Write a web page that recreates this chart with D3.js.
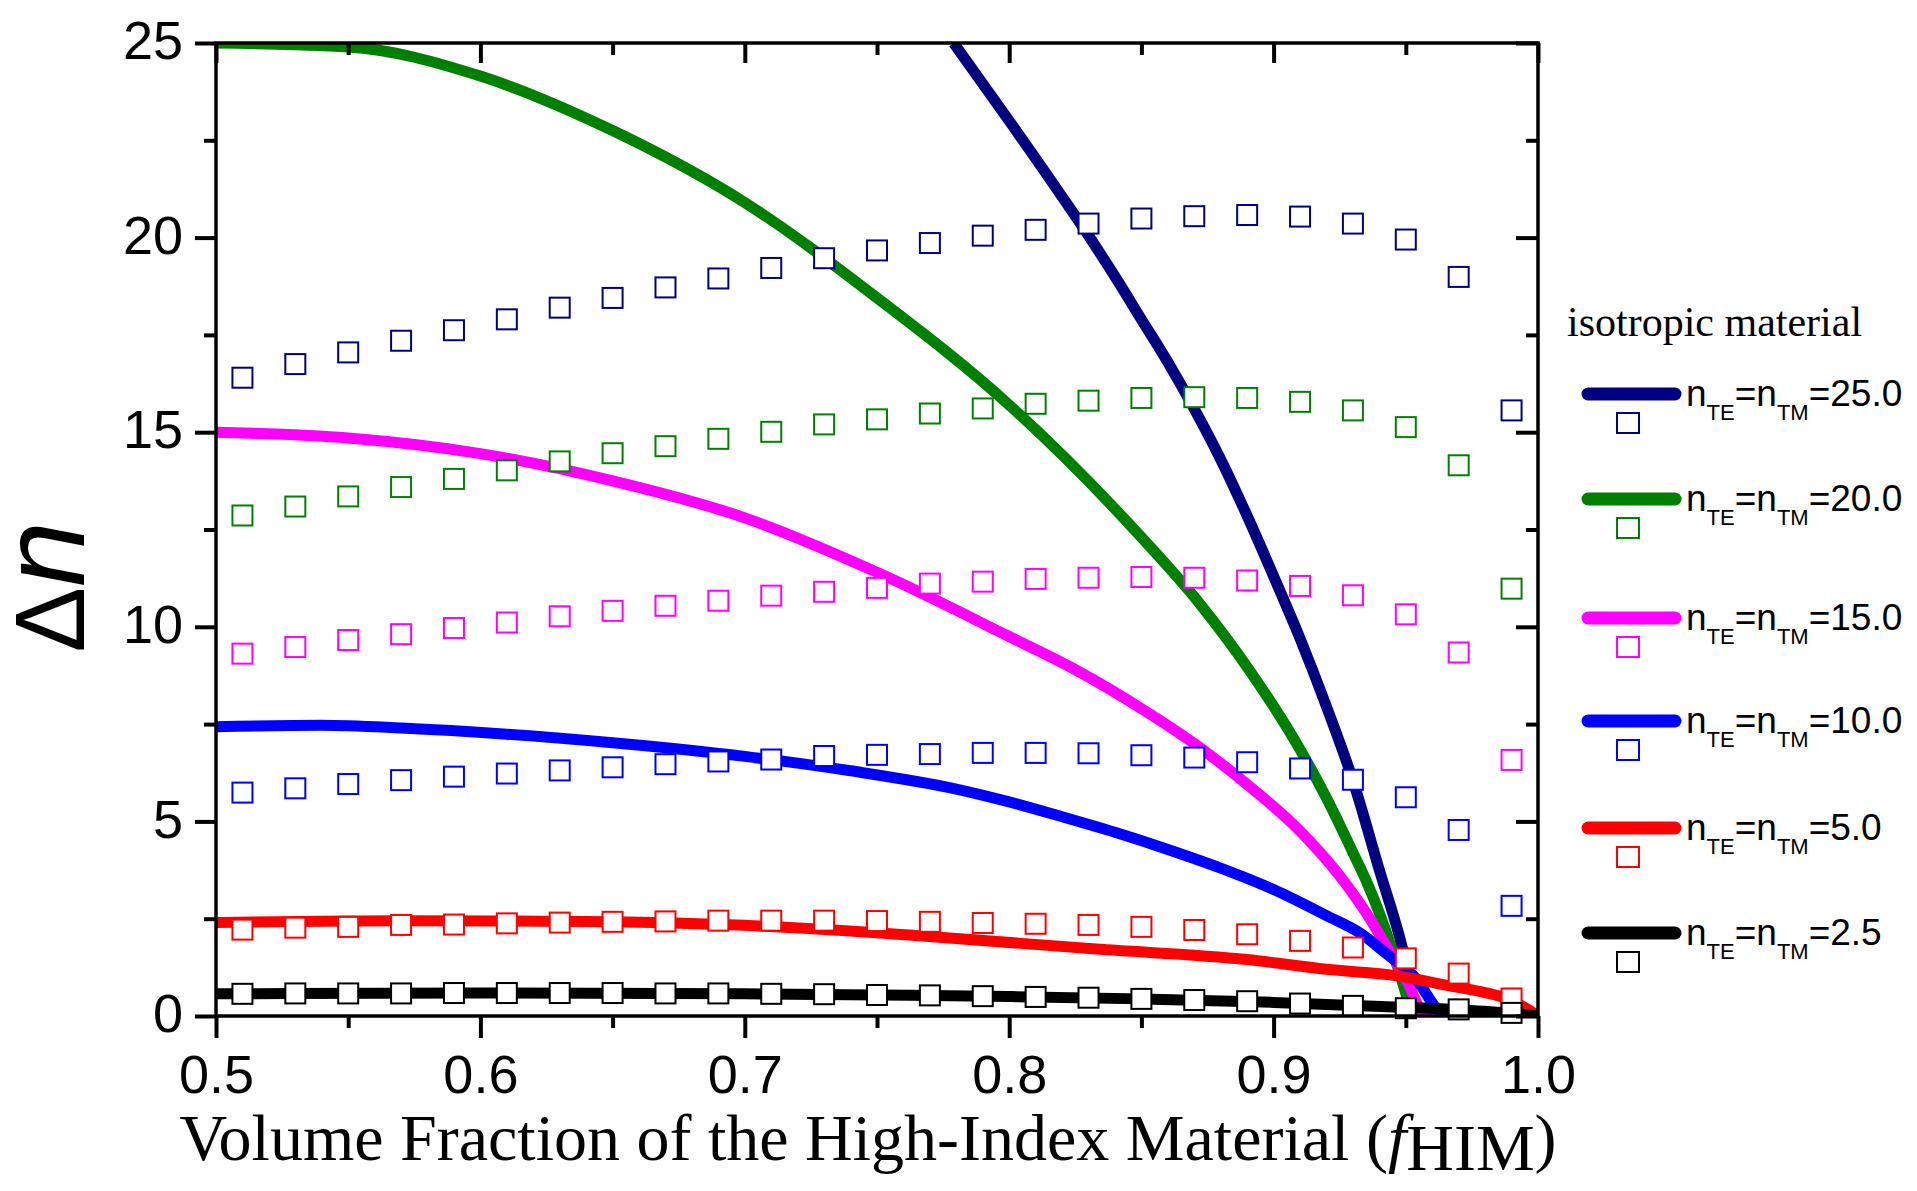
<!DOCTYPE html>
<html>
<head>
<meta charset="utf-8">
<script src="https://cdn.jsdelivr.net/npm/d3@7"></script>
<style>
  body { margin: 0; background: #fff; }
  .tick text { font-family: "Liberation Sans", Arial, sans-serif; font-size: 54px; fill: #000; }
</style>
</head>
<body>
<div id="chart"></div>
<script>
// axis ticks
var xMajor = [0.5, 0.6, 0.7, 0.8, 0.9, 1.0];
var xMinor = [0.55, 0.65, 0.75, 0.85, 0.95];
var yMajor = [0, 5, 10, 15, 20, 25];
var yMinor = [2.5, 7.5, 12.5, 17.5, 22.5];

// isotropic index of each series (legend text)
var indexLabels = ["25.0", "20.0", "15.0", "10.0", "5.0", "2.5"];

// theory curves [f, dn]
var line25 = [[0.779,25.0],[0.80,23.0],[0.82,21.05],[0.83,20.05],[0.84,19.0],[0.85,17.9],[0.86,16.8],[0.87,15.6],[0.88,14.3],[0.89,12.85],[0.90,11.3],[0.91,9.7],[0.92,7.95],[0.93,6.05],[0.94,3.75],[0.9485,1.8],[0.9516,0.9],[0.953,0],[1.0,0]];
var line20 = [[0.5,25.0],[0.55,24.9],[0.6,24.15],[0.65,22.75],[0.7,20.9],[0.75,18.45],[0.8,15.7],[0.85,12.3],[0.872,10.6],[0.891,8.87],[0.91,6.85],[0.92,5.6],[0.93,4.2],[0.9352,3.45],[0.9446,1.76],[0.9485,0.92],[0.9535,0],[1.0,0]];
var line15 = [[0.5,15.0],[0.55,14.85],[0.6,14.45],[0.65,13.75],[0.7,12.8],[0.75,11.4],[0.8,9.75],[0.825,8.9],[0.85,7.9],[0.87,7.0],[0.89,5.95],[0.91,4.75],[0.925,3.6],[0.935,2.65],[0.943,1.75],[0.95,0.95],[0.958,0],[1.0,0]];
var line10 = [[0.5,7.43],[0.54,7.47],[0.57,7.4],[0.61,7.24],[0.65,7.02],[0.7,6.67],[0.74,6.3],[0.78,5.83],[0.80,5.5],[0.82,5.12],[0.84,4.72],[0.86,4.28],[0.88,3.8],[0.90,3.25],[0.92,2.58],[0.933,2.12],[0.9427,1.6],[0.9527,1.05],[0.9656,0],[1.0,0]];
var line5 = [[0.5,2.4],[0.57,2.45],[0.64,2.43],[0.7,2.33],[0.766,2.06],[0.833,1.72],[0.89,1.45],[0.92,1.2],[0.947,1.03],[0.967,0.77],[0.978,0.63],[0.986,0.5],[0.995,0.22],[1.0,0]];
var line2_5 = [[0.5,0.57],[0.6,0.59],[0.7,0.57],[0.75,0.54],[0.8,0.5],[0.85,0.44],[0.9,0.35],[0.93,0.27],[0.95,0.22],[0.97,0.16],[0.99,0.07],[1.0,0]];

// simulated points (open squares)
var fPoints = [0.51,0.53,0.55,0.57,0.59,0.61,0.63,0.65,0.67,0.69,0.71,0.73,0.75,0.77,0.79,0.81,0.83,0.85,0.87,0.89,0.91,0.93,0.95,0.97,0.99];
var sq25 = [16.4,16.75,17.05,17.35,17.62,17.9,18.2,18.45,18.72,18.95,19.22,19.47,19.67,19.86,20.05,20.2,20.36,20.49,20.55,20.58,20.54,20.36,19.95,18.99,15.56];
var sq20 = [12.86,13.09,13.35,13.59,13.8,14.02,14.25,14.46,14.64,14.83,15.01,15.2,15.33,15.48,15.61,15.73,15.81,15.88,15.9,15.88,15.78,15.56,15.13,14.15,10.98];
var sq15 = [9.31,9.48,9.66,9.81,9.97,10.11,10.27,10.41,10.54,10.67,10.8,10.9,11.0,11.11,11.16,11.23,11.26,11.28,11.26,11.19,11.05,10.81,10.32,9.34,6.58];
var sq10 = [5.74,5.85,5.96,6.06,6.15,6.23,6.31,6.39,6.47,6.54,6.59,6.68,6.71,6.73,6.76,6.76,6.75,6.7,6.64,6.52,6.36,6.07,5.62,4.78,2.83];
var sq5 = [2.22,2.27,2.29,2.34,2.35,2.38,2.4,2.42,2.43,2.45,2.45,2.45,2.44,2.42,2.39,2.37,2.34,2.29,2.21,2.1,1.93,1.76,1.48,1.09,0.45];
var sq2_5 = [0.57,0.58,0.58,0.58,0.59,0.59,0.59,0.59,0.58,0.58,0.57,0.56,0.54,0.53,0.51,0.49,0.47,0.44,0.41,0.38,0.32,0.26,0.2,0.17,0.08];

var lines = [line25, line20, line15, line10, line5, line2_5];
var squares = [sq25, sq20, sq15, sq10, sq5, sq2_5];
var colors = ["#000080", "#008000", "#ff00ff", "#0000ff", "#ff0000", "#000000"];

// page and plot box
var W = 1917, H = 1191;
var margin = {top: 43, right: 379, bottom: 175, left: 216};
var w = W - margin.left - margin.right;
var h = H - margin.top - margin.bottom;

var svg = d3.select("#chart").append("svg")
    .attr("width", W)
    .attr("height", H)
    .style("background", "#fff");

var g = svg.append("g")
    .attr("transform", "translate(" + margin.left + "," + margin.top + ")");

var xScale = d3.scaleLinear().domain([0.5, 1.0]).range([0, w]);
var yScale = d3.scaleLinear().domain([0, 25]).range([h, 0]);

g.append("clipPath").attr("id", "plotclip")
    .append("rect").attr("width", w).attr("height", h);

// curves
var lineGen = d3.line()
    .x(function(d) { return xScale(d[0]); })
    .y(function(d) { return yScale(d[1]); })
    .curve(d3.curveMonotoneX);

var plot = g.append("g").attr("clip-path", "url(#plotclip)");

plot.selectAll("path.curve")
    .data(lines)
    .enter()
    .append("path")
    .attr("class", "curve")
    .attr("d", lineGen)
    .attr("fill", "none")
    .attr("stroke", function(d, i) { return colors[i]; })
    .attr("stroke-width", 11)
    .attr("stroke-linejoin", "round");

// open squares on top
var sqSize = 20;
squares.forEach(function(vals, i) {
    g.append("g").selectAll("rect")
        .data(vals)
        .enter()
        .append("rect")
        .attr("x", function(d, j) { return xScale(fPoints[j]) - sqSize / 2; })
        .attr("y", function(d) { return yScale(d) - sqSize / 2; })
        .attr("width", sqSize)
        .attr("height", sqSize)
        .attr("fill", "#fff")
        .attr("stroke", colors[i])
        .attr("stroke-width", 2);
});

// axes
function styleAxis(sel) {
    sel.select(".domain").remove();
    sel.selectAll(".tick line").attr("stroke", "#000").attr("stroke-width", 4);
}

g.append("g")
    .attr("transform", "translate(0," + h + ")")
    .call(d3.axisBottom(xScale).tickValues(xMajor).tickSize(22).tickPadding(17)
        .tickFormat(d3.format(".1f")))
    .call(styleAxis);
g.append("g")
    .attr("transform", "translate(0," + h + ")")
    .call(d3.axisBottom(xScale).tickValues(xMinor).tickSize(12).tickFormat(""))
    .call(styleAxis);

g.append("g")
    .call(d3.axisLeft(yScale).tickValues(yMajor).tickSize(21).tickPadding(12)
        .tickFormat(d3.format("d")))
    .call(styleAxis)
    .selectAll("text").attr("dy", "0.29em");
g.append("g")
    .call(d3.axisLeft(yScale).tickValues(yMinor).tickSize(12).tickFormat(""))
    .call(styleAxis);

// top and right: ticks point inward
g.append("g")
    .call(d3.axisBottom(xScale).tickValues(xMajor).tickSize(20).tickFormat(""))
    .call(styleAxis);
g.append("g")
    .call(d3.axisBottom(xScale).tickValues(xMinor).tickSize(12).tickFormat(""))
    .call(styleAxis);
g.append("g")
    .attr("transform", "translate(" + w + ",0)")
    .call(d3.axisLeft(yScale).tickValues(yMajor).tickSize(22).tickFormat(""))
    .call(styleAxis);
g.append("g")
    .attr("transform", "translate(" + w + ",0)")
    .call(d3.axisLeft(yScale).tickValues(yMinor).tickSize(12).tickFormat(""))
    .call(styleAxis);

// frame
g.append("rect")
    .attr("width", w)
    .attr("height", h)
    .attr("fill", "none")
    .attr("stroke", "#000")
    .attr("stroke-width", 3.5);

// x axis title
var xt = g.append("text")
    .attr("x", w / 2 - 9)
    .attr("y", h + 144)
    .attr("text-anchor", "middle")
    .style("font-family", "'Liberation Serif', 'Times New Roman', serif")
    .style("font-size", "66px");
xt.append("tspan").text("Volume Fraction of the High-Index Material (");
xt.append("tspan").style("font-style", "italic").text("f");
xt.append("tspan").attr("dy", 10).text("HIM");
xt.append("tspan").attr("dy", -10).text(")");

// y axis title
var yt = svg.append("text")
    .attr("transform", "translate(84,587) rotate(-90)")
    .attr("text-anchor", "middle")
    .style("font-family", "'Liberation Sans', Arial, sans-serif");
yt.append("tspan").style("font-size", "98px").text("\u0394");
yt.append("tspan").style("font-size", "118px").style("font-style", "italic").text("n");

// legend
var legendY = [394, 499, 618, 721, 828, 933];
var legend = svg.append("g");

legend.append("text")
    .attr("x", 1567)
    .attr("y", 336)
    .style("font-family", "'Liberation Serif', 'Times New Roman', serif")
    .style("font-size", "42px")
    .text("isotropic material");

var items = legend.selectAll("g.item")
    .data(indexLabels)
    .enter()
    .append("g")
    .attr("class", "item")
    .attr("transform", function(d, i) { return "translate(0," + legendY[i] + ")"; });

items.append("line")
    .attr("x1", 1588).attr("x2", 1675)
    .attr("y1", 0).attr("y2", 0)
    .attr("stroke", function(d, i) { return colors[i]; })
    .attr("stroke-width", 13)
    .attr("stroke-linecap", "round");

items.append("rect")
    .attr("x", 1628 - 11).attr("y", 29 - 10)
    .attr("width", 22).attr("height", 20)
    .attr("fill", "#fff")
    .attr("stroke", function(d, i) { return colors[i]; })
    .attr("stroke-width", 2);

var lt = items.append("text")
    .attr("x", 1686)
    .attr("y", 12)
    .style("font-family", "'Liberation Sans', Arial, sans-serif")
    .style("font-size", "37px");
lt.append("tspan").text("n");
lt.append("tspan").attr("dy", 14).style("font-size", "22px").text("TE");
lt.append("tspan").attr("dy", -14).text("=n");
lt.append("tspan").attr("dy", 14).style("font-size", "22px").text("TM");
lt.append("tspan").attr("dy", -14).text(function(d) { return "=" + d; });
</script>
</body>
</html>
